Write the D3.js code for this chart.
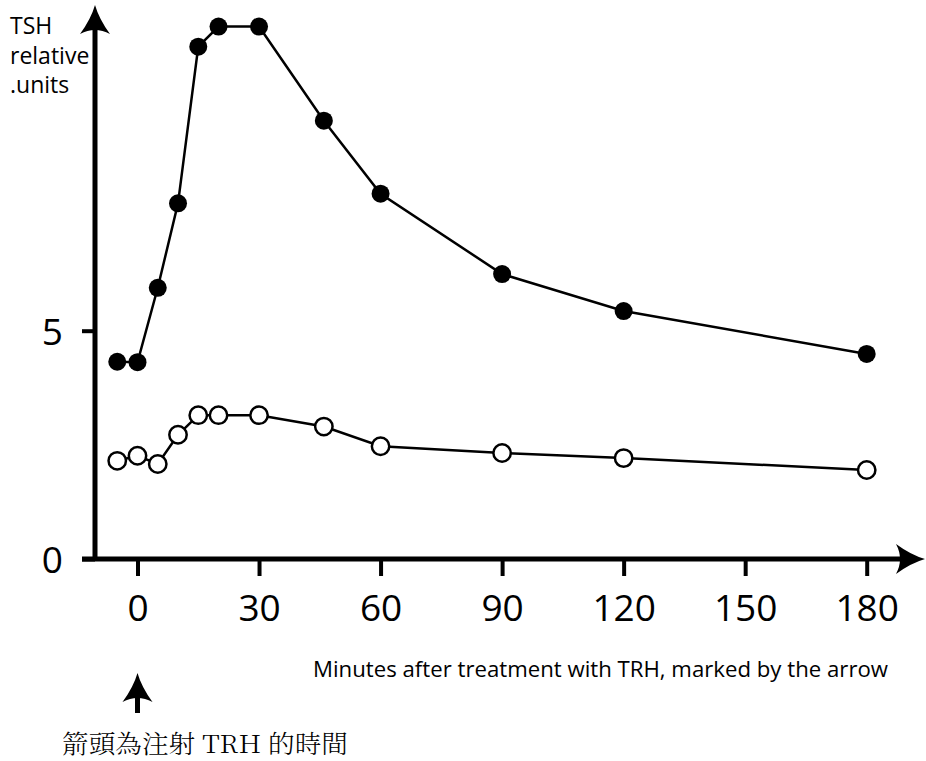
<!DOCTYPE html>
<html>
<head>
  <meta charset="utf-8">
  <script src="https://d3js.org/d3.v7.min.js"></script>
  <style>
  body { margin: 0; background: #fff; }
  svg text { font-family: "Open Sans", "Noto Sans", sans-serif; fill: #000; }
  </style>
</head>
<body>
  <script>
  var w = 926;
  var h = 761;

  //Sampling times (minutes) and TSH readings
  var minutes = [-5, 0, 5, 10, 15, 20, 30, 46, 60, 90, 120, 180];
  var tshFilled = [4.32, 4.31, 5.94, 7.79, 11.22, 11.66, 11.66, 9.6, 8.0, 6.24, 5.43, 4.49];
  var tshOpen = [2.15, 2.26, 2.08, 2.72, 3.15, 3.15, 3.15, 2.9, 2.47, 2.32, 2.21, 1.95];

  var xTicks = [0, 30, 60, 90, 120, 150, 180];
  var yTicks = [0, 5];
  var titleLines = ["TSH", "relative", ".units"];
  var xLabel = "Minutes after treatment with TRH, marked by the arrow";
  var note = "箭頭為注射 TRH 的時間";

  var x = d3.scaleLinear().domain([0, 180]).range([137.5, 866.7]);
  var y = d3.scaleLinear().domain([0, 5]).range([559, 330.7]);
  var axisX = 95;

  var svg = d3.select("body")
    .append("svg")
    .attr("width", w)
    .attr("height", h);

  //Axis shafts
  svg.append("line")
    .attr("x1", axisX).attr("x2", axisX)
    .attr("y1", y(0)).attr("y2", 28)
    .attr("stroke", "#000").attr("stroke-width", 5);
  svg.append("line")
    .attr("x1", 82).attr("x2", 902)
    .attr("y1", y(0)).attr("y2", y(0))
    .attr("stroke", "#000").attr("stroke-width", 5);

  //Arrowhead pointing up, tip at origin
  var head = "M0,0 Q4,14 15,29 Q0,21 -15,29 Q-4,14 0,0 Z";
  svg.append("path").attr("d", head)
    .attr("transform", "translate(" + axisX + ",5)");
  svg.append("path").attr("d", head)
    .attr("transform", "translate(925," + y(0) + ") rotate(90)");

  //Y axis ticks and labels
  var yAxis = svg.append("g")
    .attr("transform", "translate(" + axisX + ",0)")
    .call(d3.axisLeft(y).tickValues(yTicks).tickFormat(d3.format("d")).tickSize(13).tickPadding(20));
  yAxis.select(".domain").remove();
  yAxis.selectAll(".tick line").attr("stroke", "#000").attr("stroke-width", 4);
  yAxis.selectAll(".tick text")
    .attr("x", -32)
    .attr("dy", "0.36em")
    .style("font-size", "37px")
    .style("font-family", "'Open Sans', sans-serif");

  //X axis ticks and labels
  var xAxis = svg.append("g")
    .attr("transform", "translate(0," + y(0) + ")")
    .call(d3.axisBottom(x).tickValues(xTicks).tickFormat(d3.format("d")).tickSize(17).tickPadding(22));
  xAxis.select(".domain").remove();
  xAxis.selectAll(".tick line").attr("stroke", "#000").attr("stroke-width", 4);
  xAxis.selectAll(".tick text")
    .attr("y", 36)
    .attr("dy", "0.71em")
    .style("font-size", "37px")
    .style("font-family", "'Open Sans', sans-serif");

  //Series lines and markers
  var line = d3.line()
    .x(function(d, i){ return x(minutes[i]); })
    .y(function(d){ return y(d); });

  svg.append("path")
    .datum(tshFilled)
    .attr("d", line)
    .attr("fill", "none")
    .attr("stroke", "#000")
    .attr("stroke-width", 2.5);
  svg.append("path")
    .datum(tshOpen)
    .attr("d", line)
    .attr("fill", "none")
    .attr("stroke", "#000")
    .attr("stroke-width", 2.5);

  svg.append("g")
    .selectAll("circle")
    .data(tshFilled)
    .enter()
    .append("circle")
      .attr("cx", function(d, i){ return x(minutes[i]); })
      .attr("cy", function(d){ return y(d); })
      .attr("r", 9)
      .attr("fill", "#000");

  svg.append("g")
    .selectAll("circle")
    .data(tshOpen)
    .enter()
    .append("circle")
      .attr("cx", function(d, i){ return x(minutes[i]); })
      .attr("cy", function(d){ return y(d); })
      .attr("r", 8.7)
      .attr("fill", "#fff")
      .attr("stroke", "#000")
      .attr("stroke-width", 2.5);

  //Axis title
  svg.append("text")
    .selectAll("tspan")
    .data(titleLines)
    .enter()
    .append("tspan")
      .attr("x", 10)
      .attr("y", function(d, i){ return 34 + i * 29.5; })
      .style("font-size", "23px")
      .text(function(d){ return d; });

  svg.append("text")
    .attr("x", 313)
    .attr("y", 677)
    .attr("textLength", 575)
    .attr("lengthAdjust", "spacingAndGlyphs")
    .style("font-size", "21px")
    .text(xLabel);

  //Marker arrow for time of injection
  svg.append("line")
    .attr("x1", x(0)).attr("x2", x(0))
    .attr("y1", 695).attr("y2", 713)
    .attr("stroke", "#000").attr("stroke-width", 5);
  svg.append("path").attr("d", head)
    .attr("transform", "translate(" + x(0) + ",673)");

  svg.append("text")
    .attr("x", 62)
    .attr("y", 753)
    .attr("textLength", 286)
    .attr("lengthAdjust", "spacingAndGlyphs")
    .style("font-size", "25px")
    .style("font-family", "'Noto Serif CJK TC', 'Noto Sans CJK TC', serif")
    .style("font-weight", 300)
    .text(note);
  </script>
</body>
</html>
